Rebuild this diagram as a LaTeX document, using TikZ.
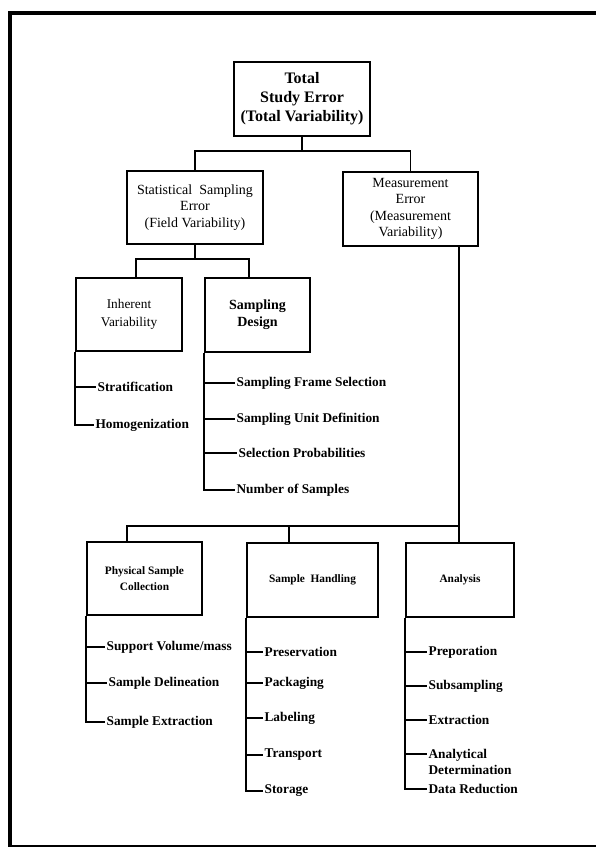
\documentclass[tikz,border=0pt]{standalone}
\usepackage{fontspec}
\setmainfont{Liberation Serif}
\usepackage{tikz}
\usetikzlibrary{calc}

\begin{document}
\begin{tikzpicture}[x=0.75pt,y=0.75pt,yscale=-1,xscale=1,
  box/.style={draw,line width=1.5pt,align=center,inner sep=1pt},
  item/.style={anchor=west,inner sep=1pt,font=\fontsize{10}{12}\selectfont\bfseries},
  link/.style={line width=1.3pt}]
\useasboundingbox (0,0) rectangle (596,848);

% Frame
\draw [line width=3.5pt] (10,846) -- (10,13) -- (596,13) ;
\draw [line width=1.5pt] (8,846) -- (596,846) ;

% Boxes
\node [box,line width=2pt,minimum width=102pt,minimum height=55.5pt,font=\fontsize{12}{14.25}\selectfont\bfseries] (top) at (302,99) {Total\\Study Error\\(Total Variability)};
\node [box,minimum width=102pt,minimum height=54.75pt,font=\fontsize{10.5}{12.4}\selectfont] (stat) at (195,207.5) {Statistical\ \ Sampling\\Error\\(Field Variability)};
\node [box,minimum width=101.25pt,minimum height=55.5pt,font=\fontsize{10.5}{12.2}\selectfont] (meas) at (410.5,209) {Measurement\\Error\\(Measurement\\Variability)};
\node [box,minimum width=79.5pt,minimum height=54.75pt,font=\fontsize{10}{13.5}\selectfont] (inh) at (129,314.5) {Inherent\\Variability};
\node [box,minimum width=78.75pt,minimum height=55.5pt,font=\fontsize{10.5}{12.75}\selectfont\bfseries] (sd) at (257.5,315) {Sampling\\Design};
\node [box,minimum width=86.25pt,minimum height=54.75pt,font=\fontsize{8.5}{12}\selectfont\bfseries] (phys) at (144.5,578.5) {Physical Sample\\Collection};
\node [box,minimum width=98.25pt,minimum height=55.5pt,font=\fontsize{8.5}{12}\selectfont\bfseries] (hand) at (312.5,580) {Sample\ \ Handling};
\node [box,minimum width=81pt,minimum height=55.5pt,font=\fontsize{8.5}{12}\selectfont\bfseries] (anal) at (460,580) {Analysis};

% Branch points
\coordinate (j1) at (302,151);
\coordinate (j2) at (195,259);
\coordinate (ji) at (136,259);
\coordinate (js) at (249,259);
\coordinate (j3) at (459,526);
\coordinate (jp) at (127,526);
\coordinate (jh) at (289,526);

% Tree connectors
\draw [link] (top.south) -- (j1) ;
\draw [link] (stat.north) |- (j1) -| (meas.north) ;
\draw [link] (stat.south) -- (j2) ;
\draw [link] (ji |- inh.north) -- (ji) -- (js) -- (js |- sd.north) ;
\draw [link] (meas.south -| j3) -- (j3) ;
\draw [link] (jp |- phys.north) -- (jp) -- (j3) -- (j3 |- anal.north) ;
\draw [link] (jh) -- (jh |- hand.north) ;

% Inherent Variability list
\node [item] (strat) at (96,387) {Stratification};
\node [item] (homog) at (94,425) {Homogenization};
\foreach \n in {strat,homog}
  \draw [link] (inh.south west) |- (\n.west) ;

% Sampling Design list
\node [item] (sfs) at (235,383) {Sampling Frame Selection};
\node [item] (sud) at (235,419) {Sampling Unit Definition};
\node [item] (selp) at (237,453) {Selection Probabilities};
\node [item] (nsam) at (235,490) {Number of Samples};
\foreach \n in {sfs,sud,selp,nsam}
  \draw [link] (sd.south west) |- (\n.west) ;

% Physical Sample Collection list
\node [item] (supv) at (105,647) {Support Volume/mass};
\node [item] (sdel) at (107,683) {Sample Delineation};
\node [item] (sext) at (105,722) {Sample Extraction};
\foreach \n in {supv,sdel,sext}
  \draw [link] (phys.south west) |- (\n.west) ;

% Sample Handling list
\node [item] (pres) at (263,652) {Preservation};
\node [item] (pack) at (263,683) {Packaging};
\node [item] (lab) at (263,718) {Labeling};
\node [item] (trans) at (263,755) {Transport};
\node [item] (stor) at (263,791) {Storage};
\foreach \n in {pres,pack,lab,trans,stor}
  \draw [link] (hand.south west) |- (\n.west) ;

% Analysis list
\node [item] (prep) at (427,652) {Preporation};
\node [item] (subs) at (427,686) {Subsampling};
\node [item] (extr) at (427,720) {Extraction};
\node [item,align=left] (det) at (427,761.5) {Analytical\\Determination};
\node [item] (dred) at (427,789) {Data Reduction};
\foreach \n in {prep,subs,extr,dred}
  \draw [link] (anal.south west) |- (\n.west) ;
\draw [link] (anal.south west) |- ($(det.west)+(0,-7.5)$) ;

\end{tikzpicture}
\end{document}
